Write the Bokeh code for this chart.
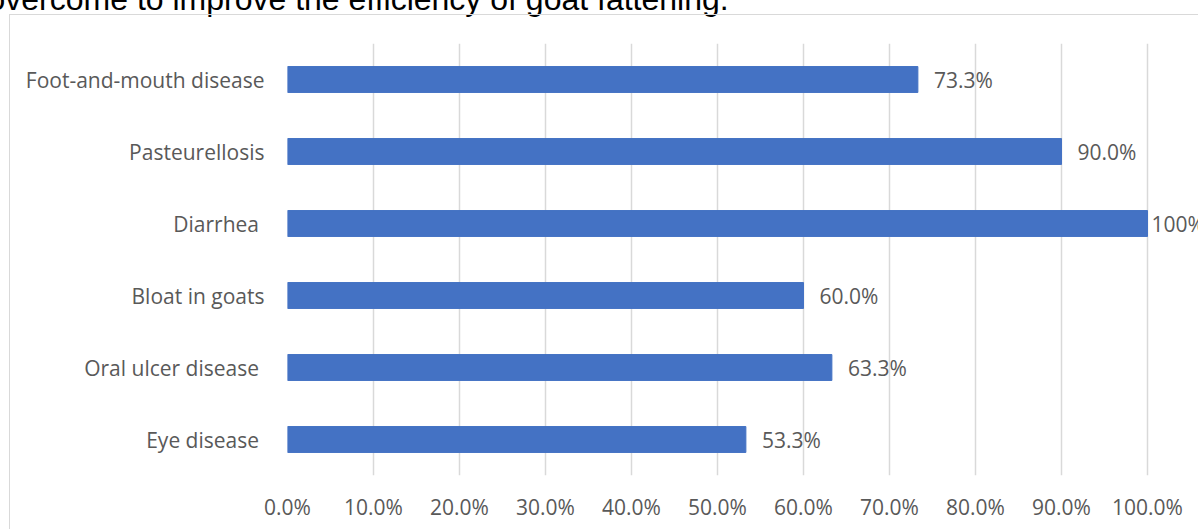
from bokeh.plotting import figure
from bokeh.models import (FactorRange, Range1d, FixedTicker, NumeralTickFormatter,
                          ColumnDataSource, Label, InlineStyleSheet)
from bokeh.core.properties import value
from bokeh.embed import file_html
from bokeh.resources import INLINE

# ---- data ----
categories = ["Foot-and-mouth disease", "Pasteurellosis", "Diarrhea ",
              "Bloat in goats", "Oral ulcer disease ", "Eye disease "]
shares = [0.733, 0.900, 1.000, 0.600, 0.633, 0.533]
value_labels = ["73.3%", "90.0%", "100%", "60.0%", "63.3%", "53.3%"]
x_ticks = [0.0, 0.1, 0.2, 0.3, 0.4, 0.5, 0.6, 0.7, 0.8, 0.9, 1.0]
caption = "overcome to improve the efficiency of goat fattening."

# ---- styling ----
BAR = "#4472c4"
TXT = "#595959"
GRID = "#d9d9d9"
FONT = "Open Sans"
FS = "21px"
label_offsets = [16, 16, 4, 16, 16, 16]

W, H = 1198, 529
left_b, top_b, bottom_b = 287, 43, 54
frame_w_100 = 860  # pixels for 0..100%
x_end = (W - left_b) / frame_w_100

src = ColumnDataSource(dict(cat=categories, val=shares, lab=value_labels,
                            off=label_offsets))

# light-grey chart-area border (drawn by CSS on the figure's host element)
border_css = InlineStyleSheet(css="""
:host { position: relative; }
:host::after {
  content: ""; position: absolute; left: 9px; top: 14px; right: -20px; bottom: -20px;
  border-left: 1.5px solid #d9d9d9; border-top: 1.5px solid #d9d9d9;
  pointer-events: none; z-index: 5;
}
""")

p = figure(width=W, height=H, output_backend="svg", toolbar_location=None,
           y_range=FactorRange(*reversed(categories), range_padding=0),
           x_range=Range1d(0, x_end),
           min_border_left=left_b, min_border_right=0,
           min_border_top=top_b, min_border_bottom=bottom_b,
           stylesheets=[border_css])
p.outline_line_color = None
p.background_fill_color = "white"
p.border_fill_color = "white"

p.hbar(y="cat", right="val", left=0, height=0.36, source=src,
       fill_color=BAR, line_color=BAR)

p.text(x="val", y="cat", text="lab", source=src, x_offset="off",
       text_align="left", text_baseline="middle",
       text_font=value(FONT), text_font_size=FS, text_color=TXT)

# axes
xa = p.xaxis[0]
xa.ticker = FixedTicker(ticks=x_ticks)
xa.formatter = NumeralTickFormatter(format="0.0%")
xa.axis_line_color = None
xa.major_tick_line_color = None
xa.minor_tick_line_color = None
xa.major_label_text_font = FONT
xa.major_label_text_font_size = FS
xa.major_label_text_color = TXT
xa.major_label_standoff = 11

ya = p.yaxis[0]
ya.axis_line_color = None
ya.major_tick_line_color = None
ya.minor_tick_line_color = None
ya.major_label_text_font = FONT
ya.major_label_text_font_size = FS
ya.major_label_text_color = TXT
ya.major_label_standoff = 17

p.xgrid.ticker = FixedTicker(ticks=x_ticks)
p.xgrid.grid_line_color = GRID
p.xgrid.grid_line_width = 1.5
p.ygrid.grid_line_color = None

# cut-off line of the surrounding document, placed in the top panel so it is
# not clipped to the plot frame
p.add_layout(Label(x=-13, y=-2, x_units="canvas", y_units="canvas", text=caption,
                   text_font="Liberation Sans", text_font_size="32px",
                   text_color="black", text_baseline="alphabetic"), "above")

open("out.html", "w").write(file_html(p, INLINE))
